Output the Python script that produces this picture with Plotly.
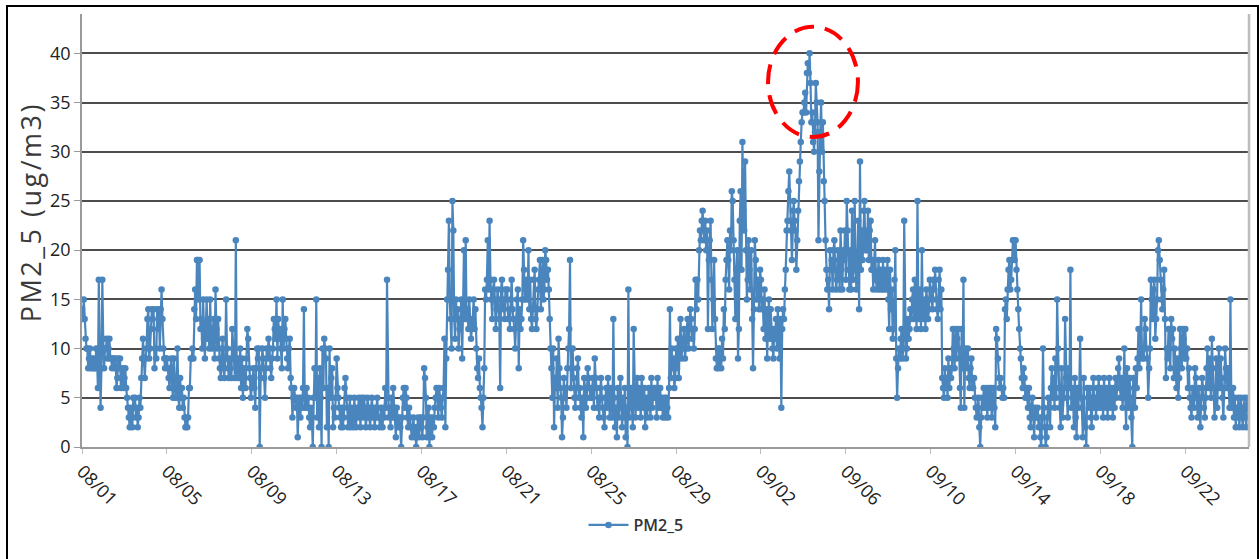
import pandas as pd
import plotly.graph_objects as go

# Hourly PM2.5 readings (ug/m3), one row per day, grouped by week starting 08/01
week1 = [
    14,13,15,13,11,10,10,8,9,10,8,9,8,9,8,8,10,9,6,17,10,4,8,17,
    11,8,10,10,11,9,10,11,9,9,8,9,9,8,9,6,7,9,8,9,6,7,8,6,
    7,8,6,5,4,3,2,4,3,2,5,4,5,3,4,2,3,5,4,7,9,11,9,7,
    9,10,13,14,9,10,12,14,13,14,8,10,9,14,12,14,10,14,16,13,10,9,8,9,
    9,8,7,6,8,9,6,5,9,7,5,6,10,5,4,7,5,6,4,5,3,2,3,2,
    3,6,6,9,9,10,9,14,16,13,19,19,15,19,12,13,10,15,11,9,12,15,11,13,
    10,15,11,10,12,13,9,16,12,10,13,9,8,7,10,11,8,7,9,15,10,8,7,9,
]
week2 = [
    8,7,12,10,9,7,21,8,7,9,7,10,6,9,5,8,7,6,9,12,11,8,7,5,
    6,7,8,6,4,8,10,9,10,0,7,8,10,9,7,5,8,10,9,11,10,8,7,9,
    10,13,12,11,15,9,13,11,12,10,8,15,10,12,13,11,9,8,10,11,7,6,3,5,
    6,5,4,5,1,4,5,3,5,4,6,14,4,5,6,4,5,3,2,4,3,0,5,8,
    5,15,3,7,2,8,5,0,10,6,11,10,9,2,6,0,10,5,7,8,2,4,3,5,
    9,6,5,4,3,2,4,2,3,6,7,5,4,2,3,5,2,4,3,2,5,3,2,4,
    3,5,4,2,5,4,3,5,4,2,3,5,4,3,2,4,5,3,4,2,3,4,5,3,
]
week3 = [
    3,2,4,3,2,4,3,6,4,17,5,3,4,2,5,3,6,4,3,1,4,3,2,3,
    2,0,3,5,6,4,6,5,3,2,4,3,2,1,2,3,1,2,0,2,3,1,2,3,
    2,1,3,8,7,5,1,2,4,0,3,2,1,3,2,4,5,6,5,3,6,5,4,3,
    5,6,11,2,9,15,18,23,15,13,10,25,22,13,11,15,13,14,10,12,13,15,9,14,
    20,13,21,13,14,12,15,13,11,12,13,15,12,14,10,8,7,9,6,5,4,2,5,8,
    16,15,17,21,16,23,17,15,13,16,17,15,12,14,16,15,13,6,16,17,14,15,13,16,
    15,16,13,14,12,15,17,14,13,12,10,13,15,16,8,14,12,13,15,21,18,15,16,17,
]
week4 = [
    15,20,14,17,13,12,14,17,18,13,12,14,16,17,19,14,18,19,15,16,20,19,17,18,
    16,13,10,8,5,10,2,7,6,9,4,11,8,6,5,1,3,7,5,6,4,8,10,12,
    19,6,8,10,7,5,4,6,8,9,5,6,4,3,5,1,7,6,4,5,8,7,6,5,
    5,6,7,4,9,7,6,4,5,3,6,7,5,4,3,2,5,6,4,7,5,3,6,5,
    3,13,5,2,4,1,6,3,5,7,4,2,5,3,6,1,4,0,16,3,5,6,4,2,
    12,6,3,5,7,4,6,5,3,7,5,4,6,2,5,3,4,6,5,3,7,4,5,6,
    5,6,3,7,4,5,6,4,5,3,4,5,3,5,4,3,6,14,7,10,8,9,6,7,
]
week5 = [
    10,8,11,7,10,13,9,10,11,12,9,10,12,13,10,12,14,13,11,12,10,12,17,14,
    17,15,20,22,21,23,24,22,21,23,20,22,12,19,21,23,17,12,15,19,13,9,8,10,
    8,10,9,8,11,9,14,12,17,19,21,19,16,22,20,26,25,21,17,13,18,20,9,12,
    23,26,18,31,24,22,29,20,15,17,21,18,16,20,13,8,14,21,19,15,17,16,14,18,
    17,14,15,12,16,11,14,9,13,15,11,14,12,10,9,12,11,13,10,14,12,9,13,4,
    12,14,13,16,18,22,23,26,28,23,22,19,24,25,23,22,18,21,24,27,29,31,33,34,
    34,35,36,34,38,39,38,40,37,33,34,31,30,32,37,35,33,21,28,32,35,30,33,27,
]
week6 = [
    25,21,18,16,17,14,20,18,19,16,20,21,18,16,17,20,19,16,22,18,16,20,19,22,
    17,25,22,18,16,20,16,24,17,19,25,18,16,19,23,14,29,18,22,19,24,25,20,22,
    20,24,19,22,23,18,19,16,18,21,17,16,17,19,16,18,17,16,19,16,18,17,16,19,
    15,12,18,14,16,11,12,17,20,9,5,8,10,9,11,12,9,10,23,11,9,10,13,11,
    12,14,13,15,16,13,17,15,12,25,14,13,16,12,20,14,13,15,12,16,15,13,14,17,
    16,15,14,17,16,18,15,14,13,17,18,14,16,7,6,5,8,6,7,5,9,6,8,7,
    8,12,10,8,12,9,11,12,10,6,4,12,8,17,4,10,8,9,10,7,6,8,9,6,
]
week7 = [
    6,7,5,4,3,4,5,2,0,3,5,4,6,5,4,6,3,5,6,4,6,3,5,6,
    4,2,12,11,9,7,6,7,6,5,6,5,14,15,13,16,18,19,16,17,19,21,21,19,
    21,18,16,14,12,10,9,7,6,8,7,5,6,5,4,6,3,2,4,5,3,1,4,3,
    3,4,2,3,1,0,3,10,4,2,0,1,3,5,4,2,6,8,5,7,4,9,5,15,
    10,6,4,2,8,3,5,6,13,7,5,3,8,6,18,4,6,5,2,7,3,1,6,4,
    6,11,5,4,1,7,3,2,0,6,5,4,6,3,2,5,7,4,5,3,6,4,7,5,
    4,6,5,3,7,5,4,6,3,5,7,4,6,5,3,6,4,7,5,6,8,9,6,5,
]
week8 = [
    7,4,6,10,5,2,8,6,4,7,5,3,0,7,6,4,8,6,9,12,8,10,15,9,
    10,9,13,12,10,9,5,8,10,17,15,13,16,17,11,13,15,20,21,19,17,15,14,16,
    18,13,7,10,9,12,10,8,13,11,12,7,10,8,6,9,5,7,12,10,8,12,11,9,
    12,9,10,6,8,5,4,3,6,5,4,8,7,5,3,6,4,2,5,7,6,4,3,5,
    8,10,6,9,7,5,11,8,6,3,5,9,4,7,10,6,9,7,5,3,6,10,8,6,
    8,6,4,15,5,4,6,3,5,2,4,3,5,2,4,5,3,2,4,5,3,2,5,4,
]

pm25 = week1 + week2 + week3 + week4 + week5 + week6 + week7 + week8
times = pd.date_range("2023-08-01 00:00", periods=len(pm25), freq="h")

series_name = "PM2_5"
y_title = "PM2_5 (ug/m3)"
y_ticks = [0, 5, 10, 15, 20, 25, 30, 35, 40]

FONT = "Open Sans, Noto Sans, sans-serif"
W, H = 1260, 559
ML, MR, MT, MB = 82, 11, 14, 112
PW, PH = W - ML - MR, H - MT - MB


def px_x(p):
    return (p - ML) / PW


def px_y(p):
    return (H - MB - p) / PH


fig = go.Figure()
fig.add_trace(go.Scatter(
    x=times, y=pm25, name=series_name, mode="lines+markers",
    line=dict(color="#4a86bd", width=2.2),
    marker=dict(color="#4a86bd", size=6.5),
    showlegend=True,
))

# highlight ring around the early-September peak
fig.add_shape(
    type="circle", xref="x", yref="y",
    x0="2023-09-02 08:00", x1="2023-09-06 13:40", y0=31.5, y1=42.7,
    line=dict(color="#ff0000", width=4, dash="20px,11px"),
)
# right-hand frame edge of the plotting area
fig.add_shape(
    type="line", xref="paper", yref="paper", x0=1, x1=1, y0=0, y1=1,
    line=dict(color="#bdbdbd", width=2.5),
)
# outer frame
fig.add_shape(
    type="rect", xref="paper", yref="paper",
    x0=px_x(7), x1=px_x(1258), y0=px_y(570), y1=px_y(6),
    line=dict(color="#000000", width=2), layer="above",
)

# vertical axis title
fig.add_annotation(
    text=y_title, textangle=-90, showarrow=False,
    xref="paper", yref="paper", x=px_x(30), y=px_y(212),
    xanchor="center", yanchor="middle",
    font=dict(size=27, color="#3a3a3a"),
)

fig.update_layout(
    width=W, height=H,
    margin=dict(l=ML, r=MR, t=MT, b=MB),
    paper_bgcolor="white", plot_bgcolor="white",
    font=dict(family=FONT, color="#222222"),
    legend=dict(
        orientation="h", x=px_x(636), xanchor="center",
        y=px_y(525), yanchor="middle",
        font=dict(size=16, color="#333333", weight=600),
        itemwidth=40,
    ),
    xaxis=dict(
        range=["2023-08-01 00:00", "2023-09-25 00:00"],
        tickformat="%m/%d", tick0="2023-08-01", dtick=4 * 86400000,
        tickangle=45, tickfont=dict(size=18, color="#222222"),
        showgrid=False, zeroline=False,
        showline=True, linecolor="#9a9a9a", linewidth=1.5,
        ticks="outside", ticklen=5, tickcolor="#bbbbbb",
    ),
    yaxis=dict(
        range=[0, 44], tickvals=y_ticks,
        tickfont=dict(size=18, color="#222222"),
        showgrid=True, gridcolor="#4d4d4d", gridwidth=1.5,
        zeroline=False,
        showline=True, linecolor="#9a9a9a", linewidth=1.5,
        ticks="outside", ticklen=6, tickcolor="#9a9a9a",
    ),
)

# widen the tracking of the axis title
spacing_js = """
var gd = document.getElementById('{plot_id}');
gd.querySelectorAll('.annotation-text').forEach(function (t) {
    if (t.textContent.indexOf('ug/m3') >= 0) { t.style.letterSpacing = '2.5px'; }
});
"""

fig.write_html("out.html", post_script=spacing_js)
